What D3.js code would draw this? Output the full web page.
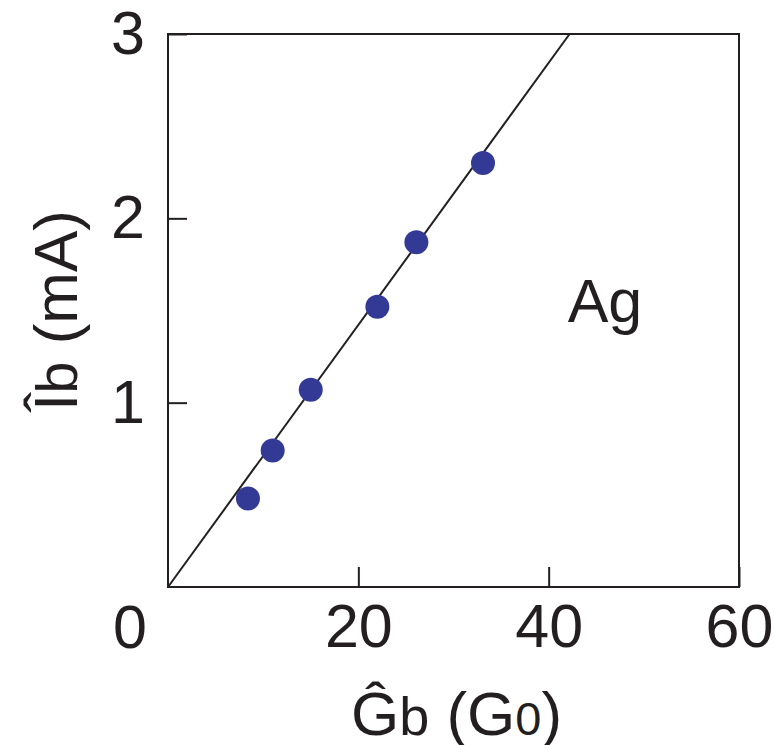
<!DOCTYPE html>
<html>
<head>
<meta charset="utf-8">
<script src="https://cdn.jsdelivr.net/npm/d3@7"></script>
<style>
  body { margin: 0; background: #fff; }
  text { font-family: "Liberation Sans", Arial, Helvetica, sans-serif; fill: #231f20; }
</style>
</head>
<body>
<div id="chart"></div>
<script>
// measured points, Ag
const conductance = [8.4, 11.0, 15.0, 22.0, 26.1, 33.1];
const current = [0.48, 0.74, 1.07, 1.52, 1.87, 2.30];
// linear fit through origin
const fitX = [0, 42.2];
const fitY = [0, 3];
const xTicks = [20, 40, 60];
const yTicks = [1, 2, 3];

const W = 774, H = 745;
const margin = { top: 34, right: 35, bottom: 158, left: 168 };
const width = W - margin.left - margin.right;
const height = H - margin.top - margin.bottom;
const ink = "#231f20";

const svg = d3.select("#chart")
  .append("svg")
  .attr("width", W)
  .attr("height", H);

const g = svg.append("g")
  .attr("transform", `translate(${margin.left},${margin.top})`);

const x = d3.scaleLinear().domain([0, 60]).range([0, width]);
const y = d3.scaleLinear().domain([0, 3]).range([height, 0]);

// axes, ticks pointing inward
const xAxis = g.append("g")
  .attr("transform", `translate(0,${height})`)
  .call(d3.axisBottom(x).tickValues(xTicks).tickFormat(d3.format("d"))
    .tickSize(-20).tickPadding(17));

const yAxis = g.append("g")
  .call(d3.axisLeft(y).tickValues(yTicks).tickFormat(d3.format("d"))
    .tickSize(-19).tickPadding(23));

[xAxis, yAxis].forEach(a => {
  a.select(".domain").remove();
  a.selectAll("line").attr("stroke", ink).attr("stroke-width", 2);
  a.selectAll("text")
    .style("font-size", "61px")
    .style("font-family", "'Liberation Sans', Arial, sans-serif")
    .attr("fill", ink);
});

// shared origin label
g.append("text")
  .attr("x", -38)
  .attr("y", height + 61)
  .attr("text-anchor", "middle")
  .style("font-size", "61px")
  .text("0");

// frame
g.append("rect")
  .attr("width", width)
  .attr("height", height)
  .attr("fill", "none")
  .attr("stroke", ink)
  .attr("stroke-width", 2);

// fit line
const line = d3.line()
  .x(d => x(d[0]))
  .y(d => y(d[1]));

g.append("path")
  .datum(d3.zip(fitX, fitY))
  .attr("d", line)
  .attr("fill", "none")
  .attr("stroke", ink)
  .attr("stroke-width", 2);

// points
g.selectAll("circle")
  .data(d3.zip(conductance, current))
  .enter()
  .append("circle")
  .attr("cx", d => x(d[0]))
  .attr("cy", d => y(d[1]))
  .attr("r", 12)
  .attr("fill", "#333a96");

// label
g.append("text")
  .attr("x", x(42))
  .attr("y", y(1.44))
  .style("font-size", "61px")
  .text("Ag");

// x title
const xt = svg.append("text")
  .attr("x", margin.left + width / 2 + 3)
  .attr("y", 735)
  .attr("text-anchor", "middle")
  .style("font-size", "62px");
xt.append("tspan").text("Ĝ");
xt.append("tspan").style("font-size", "54px").text("b");
xt.append("tspan").text(" (G");
xt.append("tspan").style("font-size", "47px").text("0");
xt.append("tspan").text(")");

// y title
const yt = svg.append("text")
  .attr("transform", `translate(77,${margin.top + height / 2}) rotate(-90)`)
  .attr("text-anchor", "middle")
  .style("font-size", "62px");
yt.append("tspan").text("Î");
yt.append("tspan").style("font-size", "58px").text("b");
yt.append("tspan").text(" (mA)");
</script>
</body>
</html>
